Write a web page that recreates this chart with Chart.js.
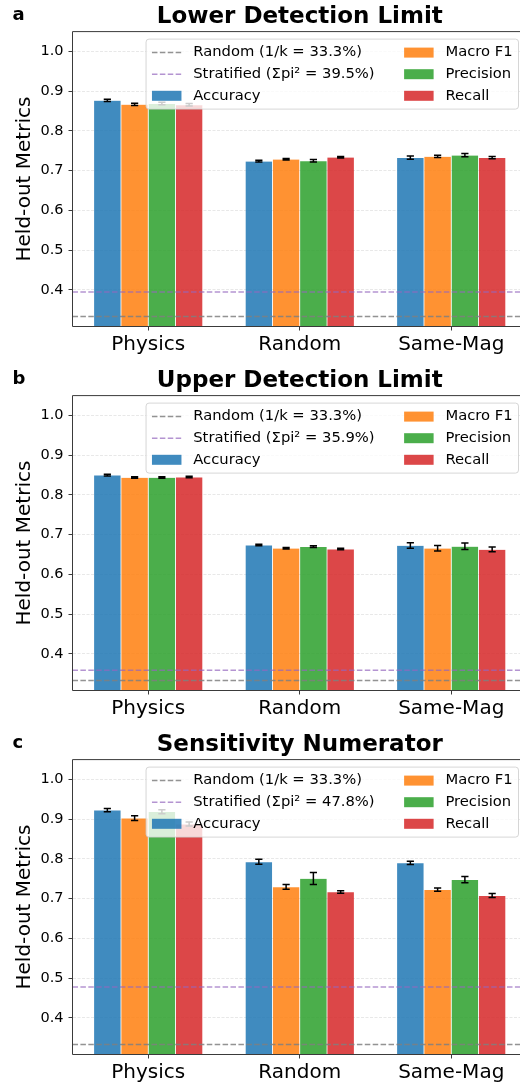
<!DOCTYPE html>
<html>
<head>
<meta charset="utf-8">
<script src="https://cdn.jsdelivr.net/npm/chart.js@4"></script>
<style>
  html, body { margin: 0; padding: 0; background: #fff; overflow: hidden; width: 520px; height: 1085px; }
  .panel { position: absolute; left: 0; width: 528px; height: 364px; }
  canvas { display: block; }
</style>
</head>
<body>
<div class="panel" style="top:0px"><canvas id="c0" width="528" height="364"></canvas></div>
<div class="panel" style="top:364px"><canvas id="c1" width="528" height="364"></canvas></div>
<div class="panel" style="top:728px"><canvas id="c2" width="528" height="364"></canvas></div>
<script>
// ---- data ----
const categories = ['Physics', 'Random', 'Same-Mag'];
const metrics = ['Accuracy', 'Macro F1', 'Precision', 'Recall'];
const panelLetters = ['a', 'b', 'c'];
const panelTitles = ['Lower Detection Limit', 'Upper Detection Limit', 'Sensitivity Numerator'];
const yTickValues = [0.4, 0.5, 0.6, 0.7, 0.8, 0.9, 1.0];
const randomBaseline = 0.333;
const stratifiedBaselines = [0.395, 0.359, 0.478];

// rows: Accuracy, Macro F1, Precision, Recall; columns: Physics, Random, Same-Mag
const lowerMeans  = [[0.877, 0.724, 0.733], [0.867, 0.729, 0.736], [0.869, 0.725, 0.739], [0.866, 0.734, 0.733]];
const lowerErrors = [[0.003, 0.002, 0.004], [0.003, 0.002, 0.003], [0.003, 0.003, 0.004], [0.003, 0.002, 0.003]];
const upperMeans  = [[0.850, 0.674, 0.673], [0.844, 0.666, 0.666], [0.844, 0.670, 0.671], [0.845, 0.664, 0.663]];
const upperErrors = [[0.002, 0.002, 0.007], [0.002, 0.002, 0.007], [0.002, 0.002, 0.008], [0.002, 0.002, 0.006]];
const sensMeans   = [[0.923, 0.793, 0.790], [0.903, 0.730, 0.723], [0.919, 0.751, 0.748], [0.888, 0.717, 0.708]];
const sensErrors  = [[0.004, 0.006, 0.004], [0.006, 0.006, 0.004], [0.005, 0.015, 0.008], [0.005, 0.003, 0.005]];

// ---- style ----
const FONT = "'DejaVu Sans', 'Liberation Sans', sans-serif";
const metricColors = ['rgba(31,119,180,0.85)', 'rgba(255,127,14,0.85)', 'rgba(44,160,44,0.85)', 'rgba(214,39,40,0.85)'];
const randomColor = 'rgba(128,128,128,0.85)';
const stratColor = 'rgba(148,103,189,0.7)';
const spineColor = '#3a3a3a';
const gridColor = 'rgba(170,170,170,0.35)';
const baselineDash = [5.5, 2.4];

// baselines, error bars, spines, legend and panel letter
const panelDecor = {
  id: 'panelDecor',
  afterDatasetsDraw(chart, args, opts) {
    const { ctx, chartArea: a, scales: { y } } = chart;
    // chance baselines
    ctx.save();
    ctx.beginPath();
    ctx.rect(a.left, a.top, a.right - a.left, a.bottom - a.top);
    ctx.clip();
    opts.baselines.forEach(b => {
      const py = y.getPixelForValue(b.value);
      ctx.strokeStyle = b.color;
      ctx.lineWidth = 1.5;
      ctx.setLineDash(baselineDash);
      ctx.beginPath();
      ctx.moveTo(a.left, py);
      ctx.lineTo(a.right, py);
      ctx.stroke();
    });
    ctx.restore();

    // error bars
    ctx.save();
    ctx.strokeStyle = '#000';
    ctx.lineWidth = 1.5;
    chart.data.datasets.forEach((ds, di) => {
      chart.getDatasetMeta(di).data.forEach((bar, i) => {
        const v = ds.data[i], e = ds.errors[i];
        const y1 = y.getPixelForValue(v + e);
        const y2 = y.getPixelForValue(v - e);
        const cx = bar.x, cap = 3.6;
        ctx.beginPath();
        ctx.moveTo(cx, y1); ctx.lineTo(cx, y2);
        ctx.moveTo(cx - cap, y1); ctx.lineTo(cx + cap, y1);
        ctx.moveTo(cx - cap, y2); ctx.lineTo(cx + cap, y2);
        ctx.stroke();
      });
    });
    ctx.restore();

    // spines (left, bottom, top)
    ctx.save();
    ctx.strokeStyle = spineColor;
    ctx.lineWidth = 1;
    ctx.beginPath();
    ctx.moveTo(a.right + 2, a.top);
    ctx.lineTo(a.left, a.top);
    ctx.lineTo(a.left, a.bottom);
    ctx.lineTo(a.right + 2, a.bottom);
    ctx.stroke();
    ctx.restore();
  },
  afterDraw(chart, args, opts) {
    const { ctx, chartArea: a } = chart;
    ctx.save();
    // panel letter
    ctx.fillStyle = '#000';
    ctx.font = `bold 18px ${FONT}`;
    ctx.textBaseline = 'alphabetic';
    ctx.textAlign = 'left';
    ctx.fillText(opts.letter, 12.5, 20);

    // legend: two columns, column-major
    const fs = 14.75;
    ctx.font = `${fs}px ${FONT}`;
    const pad = 0.4 * fs, handleLen = 2 * fs, textPad = 0.8 * fs, colSpace = 2 * fs;
    const rowH = 21.6;
    const datasets = chart.data.datasets;
    const col1 = [
      { kind: 'line', color: randomColor, text: opts.baselines[0].label },
      { kind: 'line', color: stratColor, text: opts.baselines[1].label },
      { kind: 'patch', color: datasets[0].backgroundColor, text: datasets[0].label }
    ];
    const col2 = [1, 2, 3].map(k => ({ kind: 'patch', color: datasets[k].backgroundColor, text: datasets[k].label }));
    const w1 = Math.max(...col1.map(it => ctx.measureText(it.text).width));
    const w2 = Math.max(...col2.map(it => ctx.measureText(it.text).width));
    const boxW = pad + handleLen + textPad + w1 + colSpace + handleLen + textPad + w2 + pad;
    const boxH = 70;
    const right = a.right - 8.5;
    const left = right - boxW;
    const top = a.top + 7.5;
    // frame
    const r = 3;
    ctx.beginPath();
    ctx.moveTo(left + r, top);
    ctx.lineTo(right - r, top); ctx.arcTo(right, top, right, top + r, r);
    ctx.lineTo(right, top + boxH - r); ctx.arcTo(right, top + boxH, right - r, top + boxH, r);
    ctx.lineTo(left + r, top + boxH); ctx.arcTo(left, top + boxH, left, top + boxH - r, r);
    ctx.lineTo(left, top + r); ctx.arcTo(left, top, left + r, top, r);
    ctx.closePath();
    ctx.fillStyle = 'rgba(255,255,255,0.8)';
    ctx.fill();
    ctx.strokeStyle = 'rgba(204,204,204,0.8)';
    ctx.lineWidth = 1;
    ctx.stroke();

    const drawItem = (it, x0, yc) => {
      if (it.kind === 'line') {
        ctx.save();
        ctx.strokeStyle = it.color;
        ctx.lineWidth = 1.5;
        ctx.setLineDash(baselineDash);
        ctx.beginPath();
        ctx.moveTo(x0, yc); ctx.lineTo(x0 + handleLen, yc);
        ctx.stroke();
        ctx.restore();
      } else {
        ctx.fillStyle = it.color;
        ctx.fillRect(x0, yc - 5, handleLen, 10);
      }
      ctx.fillStyle = '#000';
      ctx.textBaseline = 'middle';
      ctx.textAlign = 'left';
      ctx.fillText(it.text, x0 + handleLen + textPad, yc);
    };
    const x1 = left + pad;
    const x2 = x1 + handleLen + textPad + w1 + colSpace;
    for (let i = 0; i < 3; i++) {
      const yc = top + 13.5 + i * rowH;
      drawItem(col1[i], x1, yc);
      drawItem(col2[i], x2, yc);
    }
    ctx.restore();
  }
};

function buildPanel(idx, means, errors) {
  const canvas = document.getElementById('c' + idx);
  const baselines = [
    { value: randomBaseline, color: randomColor, label: `Random (1/k = ${(randomBaseline * 100).toFixed(1)}%)` },
    { value: stratifiedBaselines[idx], color: stratColor, label: `Stratified (Σpi² = ${(stratifiedBaselines[idx] * 100).toFixed(1)}%)` }
  ];
  new Chart(canvas, {
    type: 'bar',
    data: {
      labels: categories,
      datasets: metrics.map((m, k) => ({
        label: m,
        data: means[k],
        errors: errors[k],
        backgroundColor: metricColors[k],
        borderColor: 'rgba(255,255,255,0.3)',
        borderWidth: 0.4,
        categoryPercentage: 0.72,
        barPercentage: 1.0
      }))
    },
    options: {
      responsive: false,
      animation: false,
      devicePixelRatio: 1,
      layout: { padding: { left: 0, right: 1, top: 0, bottom: 0 } },
      scales: {
        x: {
          offset: true,
          grid: { offset: false, drawOnChartArea: false, drawTicks: true, tickLength: 4, tickColor: spineColor, tickWidth: 1 },
          border: { display: false },
          ticks: { font: { family: FONT, size: 20 }, color: '#000', padding: 2, maxRotation: 0, autoSkip: false },
          afterFit(s) { s.height = 37.5; }
        },
        y: {
          min: 0.308,
          max: 1.05,
          afterBuildTicks(s) { s.ticks = yTickValues.map(v => ({ value: v })); },
          grid: { color: gridColor, lineWidth: 0.8, drawTicks: true, tickLength: 4, tickColor: spineColor, tickWidth: 1 },
          border: { display: false, dash: [3, 1.5] },
          ticks: { font: { family: FONT, size: 14.5 }, color: '#000', padding: 5, callback: v => Number(v).toFixed(1) },
          title: { display: true, text: 'Held-out Metrics', font: { family: FONT, size: 20 }, color: '#000', padding: { top: 13, bottom: 0 } },
          afterFit(s) { s.width = 72.5; }
        }
      },
      plugins: {
        legend: { display: false },
        tooltip: { enabled: false },
        title: {
          display: true,
          text: panelTitles[idx],
          fullSize: false,
          font: { family: FONT, size: 23, weight: 'bold' },
          color: '#000',
          padding: { top: 3.5, bottom: 0.5 }
        },
        panelDecor: { baselines, letter: panelLetters[idx] }
      }
    },
    plugins: [panelDecor]
  });
}

buildPanel(0, lowerMeans, lowerErrors);
buildPanel(1, upperMeans, upperErrors);
buildPanel(2, sensMeans, sensErrors);
</script>
</body>
</html>
